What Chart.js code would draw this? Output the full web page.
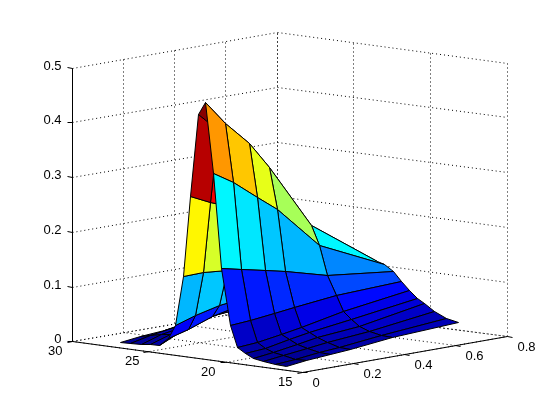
<!DOCTYPE html>
<html>
  <head>
    <style>
      html, body { margin: 0; padding: 0; background: #fff; }
      canvas { display: block; }
    </style>
    <script src="https://cdnjs.cloudflare.com/ajax/libs/Chart.js/4.4.1/chart.umd.min.js"></script>
  </head>
  <body>
    <canvas id="myChart" width="560" height="420"></canvas>
    <script>
      const xTicks = [0, 0.2, 0.4, 0.6, 0.8];
      const yTicks = [15, 20, 25, 30];
      const zTicks = [0, 0.1, 0.2, 0.3, 0.4, 0.5];

      // surface mesh, one zValues row per yValues entry
      const xValues = [0, 0.078, 0.172, 0.25, 0.414, 0.67];
      const yValues = [16, 16.75, 17.55, 18.2, 18.7, 19.2, 19.71, 20.24, 20.82, 21.3,
        21.8, 22.3, 22.74, 23.27, 23.7, 24.3, 24.9, 25.5, 26.2, 26.85];
      const zValues = [
        [0.006, 0.0106, 0.0157, 0.0177, 0.0263, 0.033],
        [0.0086, 0.0113, 0.0165, 0.0185, 0.0262, 0.0382],
        [0.0102, 0.0148, 0.0208, 0.0247, 0.0305, 0.0463],
        [0.0128, 0.0179, 0.0249, 0.0305, 0.0373, 0.0585],
        [0.0207, 0.0225, 0.0313, 0.0388, 0.0483, 0.0668],
        [0.0305, 0.0333, 0.0402, 0.0468, 0.0627, 0.0794],
        [0.0689, 0.0699, 0.0759, 0.0806, 0.0883, 0.0931],
        [0.1706, 0.1629, 0.1529, 0.1441, 0.1247, 0.1094],
        [0.3427, 0.3199, 0.2847, 0.2548, 0.1756, 0.12],
        [0.4695, 0.4259, 0.3817, 0.3316, 0.2121, 0.1255],
        [0.446, 0.4113, 0.367, 0.319, 0.2048, 0.1218],
        [0.295, 0.2778, 0.26, 0.24, 0.172, 0.105],
        [0.146, 0.1472, 0.1425, 0.1287, 0.0971, 0.0763],
        [0.0556, 0.0674, 0.0781, 0.0828, 0.086, 0.056],
        [0.0285, 0.0386, 0.0547, 0.0631, 0.0753, 0.0454],
        [0.0152, 0.0326, 0.0468, 0.0553, 0.0638, 0.0338],
        [0.013, 0.0267, 0.0373, 0.0457, 0.0525, 0.035],
        [0.0117, 0.0227, 0.0315, 0.0399, 0.0466, 0.0386],
        [0.011, 0.0192, 0.0262, 0.0336, 0.0404, 0.0379],
        [0.0106, 0.0143, 0.019, 0.0238, 0.0379, 0.0371]
      ];

      const xMin = 0, xMax = 0.8, yMin = 15, yMax = 30, zMin = 0, zMax = 0.5;

      // orthographic view of the 3d box onto the flat chart scales
      function project(x, y, z) {
        const sx = 302.3 + x * 255.9 - (y - 15) * 15.33;
        const sy = 372.3 - x * 44.5 - (y - 15) * 2.04 - z * 546.8;
        return { x: Math.floor(sx) + 0.5, y: Math.floor(sy) + 0.5 };
      }

      function jet(t) {
        const level = (Math.min(Math.floor(t * 64), 63) + 0.5) / 64;
        const c = v => Math.round(255 * Math.max(0, Math.min(1, 1.5 - Math.abs(4 * level - v))));
        return `rgb(${c(3)},${c(2)},${c(1)})`;
      }

      function segment(a, b, dash) {
        return {
          data: [project(...a), project(...b)],
          showLine: true,
          fill: false,
          borderColor: "#000",
          borderWidth: 1,
          borderDash: dash,
          pointRadius: 0
        };
      }

      const datasets = [];

      // dotted grid on the floor and the two back walls
      const dots = [1, 3];
      xTicks.forEach(x => {
        datasets.push(segment([x, yMin, zMin], [x, yMax, zMin], dots));
        datasets.push(segment([x, yMax, zMin], [x, yMax, zMax], dots));
      });
      yTicks.forEach(y => {
        datasets.push(segment([xMin, y, zMin], [xMax, y, zMin], dots));
        datasets.push(segment([xMax, y, zMin], [xMax, y, zMax], dots));
      });
      zTicks.forEach(z => {
        datasets.push(segment([xMin, yMax, z], [xMax, yMax, z], dots));
        datasets.push(segment([xMax, yMax, z], [xMax, yMin, z], dots));
      });

      // solid axes and their tick marks
      datasets.push(segment([xMin, yMax, zMin], [xMin, yMax, zMax], []));
      datasets.push(segment([xMin, yMax, zMin], [xMin, yMin, zMin], []));
      datasets.push(segment([xMin, yMin, zMin], [xMax, yMin, zMin], []));
      xTicks.forEach(x => datasets.push(segment([x, yMin, zMin], [x, yMin - 0.33, zMin], [])));
      yTicks.forEach(y => datasets.push(segment([xMin, y, zMin], [xMin - 0.02, y, zMin], [])));
      zTicks.forEach(z => datasets.push(segment([xMin, yMax, z], [xMin, yMax + 0.33, z], [])));

      // surface cells, far ones first; colour comes from the cell's lowest corner
      const zTop = Math.max(...zValues.map(row => Math.max(...row)));
      for (let j = yValues.length - 2; j >= 0; j--) {
        for (let i = xValues.length - 2; i >= 0; i--) {
          const corners = [[i, j], [i + 1, j], [i + 1, j + 1], [i, j + 1], [i, j]];
          datasets.push({
            data: corners.map(([a, b]) => project(xValues[a], yValues[b], zValues[b][a])),
            showLine: true,
            fill: "shape",
            backgroundColor: jet(zValues[j][i] / zTop),
            borderColor: "#000",
            borderWidth: 1,
            borderJoinStyle: "round",
            pointRadius: 0
          });
        }
      }

      const tickLabels = {
        id: "tickLabels",
        afterDraw(chart) {
          const { ctx, scales } = chart;
          const put = (text, p, dx, dy, align) => {
            ctx.textAlign = align;
            ctx.fillText(text, scales.x.getPixelForValue(p.x) + dx, scales.y.getPixelForValue(p.y) + dy);
          };
          ctx.save();
          ctx.fillStyle = "#000";
          ctx.font = "13px 'Liberation Sans'";
          ctx.textBaseline = "middle";
          xTicks.forEach(x => put(String(x), project(x, yMin, zMin), 10, 11, "left"));
          yTicks.forEach(y => put(String(y), project(xMin, y, zMin), -10, 10, "right"));
          zTicks.forEach(z => put(String(z), project(xMin, yMax, z), -11, -2, "right"));
          ctx.restore();
        }
      };

      const chart = new Chart(document.getElementById("myChart").getContext("2d"), {
        type: "scatter",
        data: { datasets: datasets.reverse() },
        options: {
          responsive: false,
          animation: false,
          layout: { padding: 0 },
          elements: { line: { tension: 0 } },
          scales: {
            x: { type: "linear", display: false, min: 0, max: 560 },
            y: { type: "linear", display: false, min: 0, max: 420, reverse: true }
          },
          plugins: {
            legend: { display: false },
            tooltip: { enabled: false }
          }
        },
        plugins: [tickLabels]
      });
    </script>
  </body>
</html>
